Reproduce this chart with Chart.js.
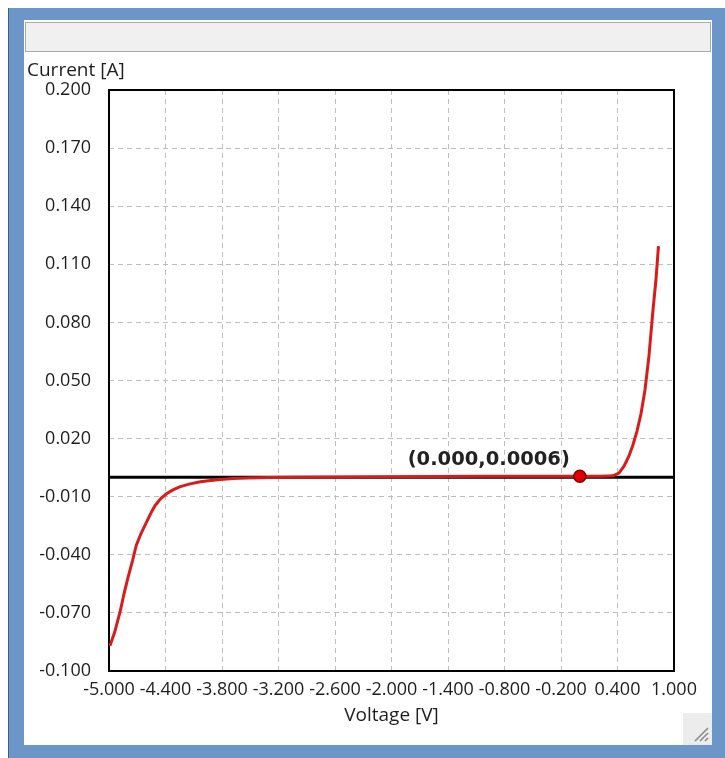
<!DOCTYPE html>
<html>
<head>
<meta charset="utf-8">
<script src="https://cdn.jsdelivr.net/npm/chart.js@4/dist/chart.umd.min.js"></script>
<style>
  html, body { margin: 0; padding: 0; background: #ffffff; }
  body { width: 725px; height: 758px; position: relative; overflow: hidden; }
  #frame { position: absolute; left: 8px; top: 8px; width: 717px; height: 750px; background: #6c95c8; border-left: 1px solid #3f5f86; box-sizing: border-box; }
  #inner { position: absolute; left: 24px; top: 20px; width: 688px; height: 725px; background: #ffffff; }
  #bar { position: absolute; left: 25px; top: 22px; width: 686px; height: 30px; background: #f0f0f0; border: 1px solid #a9a9a9; box-sizing: border-box; }
  #grip { position: absolute; left: 683px; top: 713px; width: 29px; height: 32px; background: #ececec; }
  #wrap { position: absolute; left: 24px; top: 56px; width: 688px; height: 689px; }
</style>
</head>
<body>
<div id="frame"></div>
<div id="inner"></div>
<div id="bar"></div>
<div id="grip"><svg width="29" height="32"><g stroke="#8a8a8a" stroke-width="1.6"><line x1="12" y1="28" x2="25" y2="15"/><line x1="17" y1="28" x2="25" y2="20"/><line x1="22" y1="28" x2="25" y2="25"/></g></svg></div>
<div id="wrap"><canvas id="c"></canvas></div>
<script>
// ---- data ----
const voltage = [-4.99, -4.94, -4.88, -4.84, -4.80, -4.75, -4.71, -4.66, -4.60, -4.55, -4.51, -4.45, -4.39, -4.32, -4.25, -4.15, -4.03, -3.92, -3.82, -3.68, -3.54, -3.30, -3.00, -2.50, -2.00, -1.50, -1.00, -0.50, 0.00, 0.20, 0.30, 0.35, 0.416, 0.469, 0.522, 0.564, 0.607, 0.649, 0.692, 0.734, 0.777, 0.809, 0.835];
const current = [-0.087, -0.080, -0.069, -0.060, -0.052, -0.043, -0.035, -0.029, -0.023, -0.018, -0.0145, -0.011, -0.0085, -0.0065, -0.0049, -0.0035, -0.0023, -0.0016, -0.0011, -0.0006, -0.0003, -0.0001, 0.0000, 0.0002, 0.0003, 0.0004, 0.0005, 0.0005, 0.0006, 0.0006, 0.0007, 0.0008, 0.0022, 0.0058, 0.0110, 0.0167, 0.0239, 0.0327, 0.0451, 0.0626, 0.0864, 0.1024, 0.1194];
const markerV = [0.000];
const markerI = [0.0006];
const markerLabel = "(0.000,0.0006)";
const zeroLineV = [-5.0, 1.0];
const zeroLineI = [0.0, 0.0];
const xTicks = [-5.0, -4.4, -3.8, -3.2, -2.6, -2.0, -1.4, -0.8, -0.2, 0.4, 1.0];
const yTicks = [-0.10, -0.07, -0.04, -0.01, 0.02, 0.05, 0.08, 0.11, 0.14, 0.17, 0.20];
const xTitle = "Voltage [V]";
const yTitle = "Current [A]";

const toPts = (xs, ys) => xs.map((x, i) => ({x: x, y: ys[i]}));

const labelFont = "'Open Sans', 'Noto Sans', sans-serif";

const decor = {
  id: 'decor',
  beforeDatasetsDraw(chart) {
    const {ctx, chartArea: a} = chart;
    ctx.save();
    ctx.strokeStyle = '#000';
    ctx.lineWidth = 2;
    ctx.strokeRect(a.left, a.top, a.right - a.left, a.bottom - a.top);
    ctx.restore();
  },
  afterDraw(chart) {
    const {ctx} = chart;
    ctx.save();
    ctx.fillStyle = '#1e1e1e';
    ctx.font = "19px " + labelFont;
    ctx.textAlign = 'left';
    ctx.textBaseline = 'middle';
    ctx.fillText(yTitle, 3, 15);
    const xs = chart.scales.x, ys = chart.scales.y;
    const px = xs.getPixelForValue(markerV[0]);
    const py = ys.getPixelForValue(markerI[0]);
    ctx.font = "bold 19.5px 'DejaVu Sans', sans-serif";
    ctx.fillStyle = '#222';
    ctx.textAlign = 'right';
    ctx.fillText(markerLabel, px - 10, py - 16);
    ctx.restore();
  }
};

new Chart(document.getElementById('c'), {
  type: 'scatter',
  data: {
    datasets: [
      {
        data: toPts(zeroLineV, zeroLineI),
        showLine: true,
        borderColor: '#000000',
        borderWidth: 3,
        pointRadius: 0,
        order: 3
      },
      {
        data: toPts(voltage, current),
        showLine: true,
        borderColor: '#d81c1c',
        borderWidth: 3,
        pointRadius: 0,
        tension: 0,
        order: 2
      },
      {
        data: toPts(markerV, markerI),
        pointRadius: 6,
        pointBackgroundColor: '#e00000',
        pointBorderColor: '#7a0000',
        pointBorderWidth: 1.5,
        order: 1
      }
    ]
  },
  options: {
    responsive: true,
    maintainAspectRatio: false,
    animation: false,
    events: [],
    layout: { padding: { left: 0, right: 38, top: 34, bottom: 18 } },
    plugins: { legend: { display: false }, tooltip: { enabled: false } },
    scales: {
      x: {
        type: 'linear',
        min: -5, max: 1,
        afterBuildTicks: s => { s.ticks = xTicks.map(v => ({value: v})); },
        afterFit: s => { s.height = 56; },
        grid: { color: '#bdbdbd', lineWidth: 1, drawTicks: false },
        border: { display: false, dash: [5, 4] },
        ticks: {
          padding: 8, maxRotation: 0, autoSkip: false,
          color: '#1e1e1e', font: { family: labelFont, size: 18 },
          callback: v => Number(v).toFixed(3)
        },
        title: { display: true, text: xTitle, color: '#1e1e1e', font: { family: labelFont, size: 19 }, padding: { top: 0, bottom: 0 } }
      },
      y: {
        type: 'linear',
        min: -0.1, max: 0.2,
        afterBuildTicks: s => { s.ticks = yTicks.map(v => ({value: v})); },
        afterFit: s => { s.width = 85; },
        grid: { color: '#bdbdbd', lineWidth: 1, drawTicks: false },
        border: { display: false, dash: [5, 4] },
        ticks: {
          padding: 18, autoSkip: false,
          color: '#1e1e1e', font: { family: labelFont, size: 18 },
          callback: v => Number(v).toFixed(3)
        }
      }
    }
  },
  plugins: [decor]
});
</script>
</body>
</html>
